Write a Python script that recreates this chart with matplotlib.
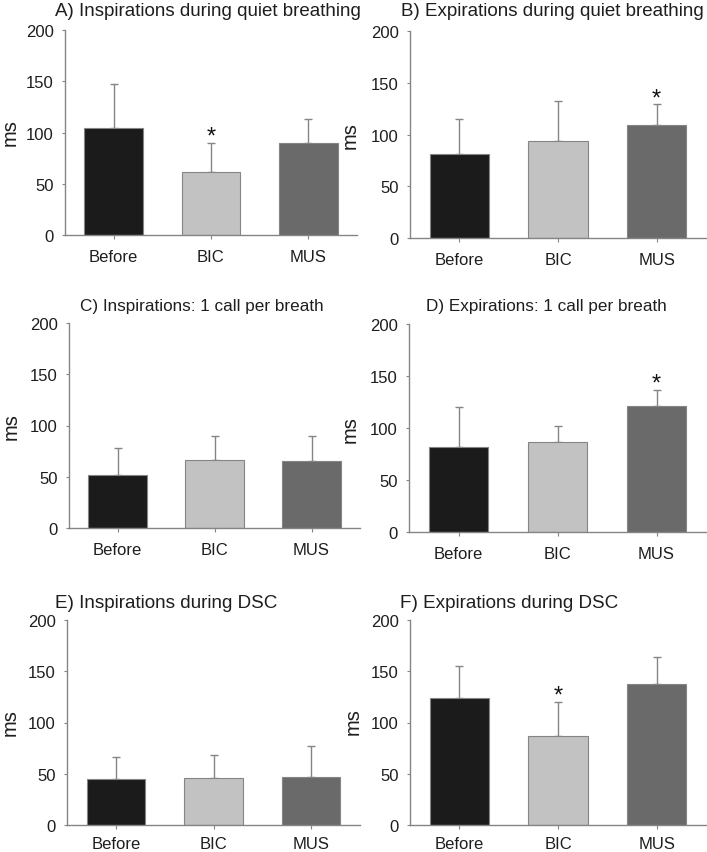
import matplotlib
matplotlib.use("Agg")
import matplotlib.pyplot as plt
import numpy as np

plt.rcParams['font.family'] = ['Liberation Sans', 'DejaVu Sans']

groups = ['Before', 'BIC', 'MUS']
titles = ['A) Inspirations during quiet breathing', 'B) Expirations during quiet breathing',
          'C) Inspirations: 1 call per breath', 'D) Expirations: 1 call per breath',
          'E) Inspirations during DSC', 'F) Expirations during DSC']

# means and upper error (mean + SD)
means_a = [104, 61, 90]
tops_a = [147, 90, 113]
means_b = [81, 94, 109]
tops_b = [115, 132, 129]
means_c = [52, 66, 65]
tops_c = [78, 90, 90]
means_d = [82, 87, 121]
tops_d = [120, 102, 137]
means_e = [45, 46, 47]
tops_e = [66, 68, 77]
means_f = [124, 87, 138]
tops_f = [155, 120, 164]

# significance stars (index of bar), per panel
stars = [[1], [2], [], [2], [], [1]]

all_means = [means_a, means_b, means_c, means_d, means_e, means_f]
all_tops = [tops_a, tops_b, tops_c, tops_d, tops_e, tops_f]

colors = ['#1b1b1b', '#c2c2c2', '#6a6a6a']
grey = '#858585'
txt = '#1e1e1e'

W, H = 707, 853
fig = plt.figure(figsize=(W / 100, H / 100), dpi=100)

# axes boxes in pixels: left, right, top, bottom
boxes = [(65, 357, 31, 236), (410, 706, 32, 239),
         (69, 360, 324, 529), (409, 706, 325, 533),
         (67, 360, 621, 826), (410, 706, 621, 826)]
# title left x / baseline y, title size, ylabel centre (pixels)
title_pos = [(55, 16, 13.5), (401, 16, 13.5), (80, 311, 12.3),
             (426, 311, 12.3), (55, 608, 13.6), (400, 608, 13.6)]
ylab_pos = [(10, 133), (350, 136), (11, 427), (350, 430), (10, 723), (353, 722)]

x = np.arange(len(groups))
for i, (l, r, t, b) in enumerate(boxes):
    ax = fig.add_axes([l / W, 1 - b / H, (r - l) / W, (b - t) / H])
    m = np.array(all_means[i])
    top = np.array(all_tops[i])
    ax.bar(x, m, width=0.6, color=colors, edgecolor=grey, linewidth=0.8, zorder=2)
    ax.errorbar(x, m, yerr=[np.zeros(3), top - m], fmt='none', ecolor=grey,
                elinewidth=1.0, capsize=3, capthick=1.0, zorder=1)
    for k in stars[i]:
        ax.text(x[k], top[k], '*', ha='center', va='baseline', fontsize=17, color='#111111')
    ax.set_xlim(-0.5, 2.5)
    ax.set_ylim(0, 200)
    ax.set_yticks([0, 50, 100, 150, 200])
    ax.set_xticks(x)
    ax.set_xticklabels(groups)
    for s in ['top', 'right']:
        ax.spines[s].set_visible(False)
    for s in ['left', 'bottom']:
        ax.spines[s].set_color(grey)
        ax.spines[s].set_linewidth(1.0)
    ax.tick_params(axis='both', colors=grey, labelcolor=txt, labelsize=12, length=3, width=0.8)
    ax.tick_params(axis='x', pad=7 if i < 4 else 5)
    ax.tick_params(axis='y', length=2, pad=6)

    tx, ty, ts = title_pos[i]
    fig.text(tx / W, 1 - ty / H, titles[i], ha='left', va='baseline', fontsize=ts, color=txt)
    lx, ly = ylab_pos[i]
    fig.text(lx / W, 1 - ly / H, 'ms', ha='center', va='center', rotation=90,
             fontsize=14.5, color=txt)

fig.savefig('out.png', dpi=100)
